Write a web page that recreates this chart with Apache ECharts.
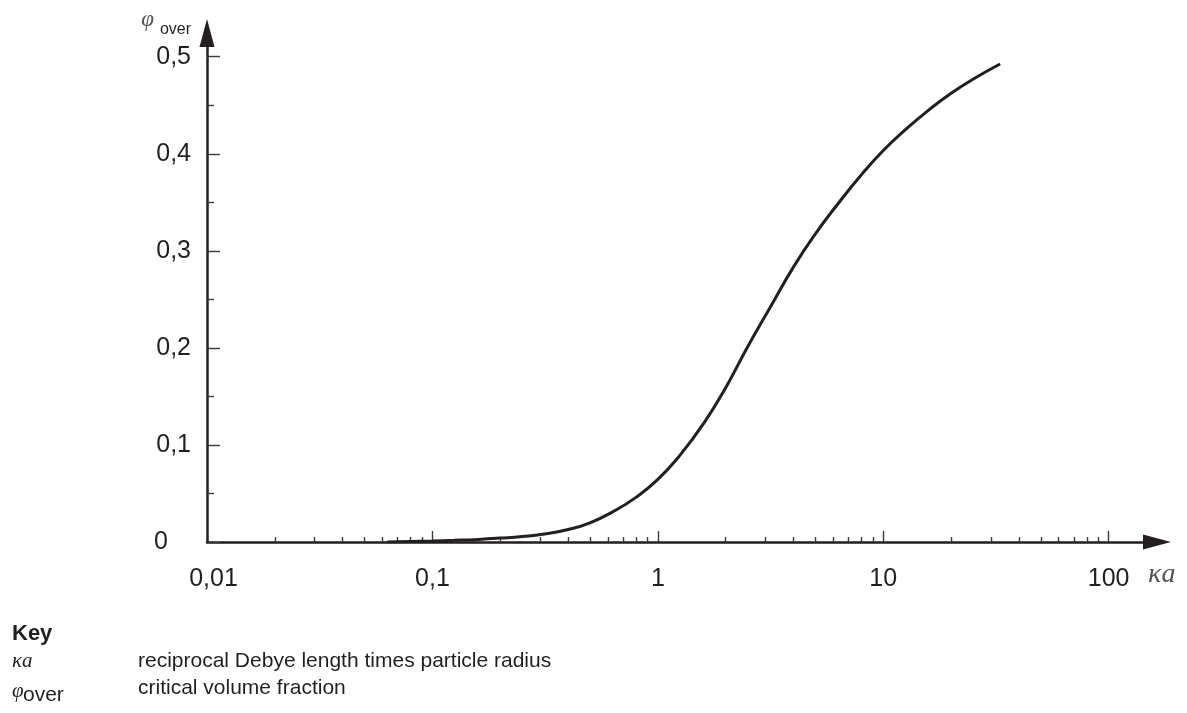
<!DOCTYPE html>
<html><head><meta charset="utf-8">
<script src="https://cdn.jsdelivr.net/npm/echarts@6/dist/echarts.min.js"></script>
<style>html,body{margin:0;padding:0;background:#fff}#c{width:1187px;height:713px}</style>
</head><body><div id="c"></div>
<script>
// ---- data ----
const kaValues = [0.063, 0.08, 0.1, 0.125, 0.16, 0.2, 0.25, 0.32, 0.4, 0.5, 0.63, 0.8, 1, 1.25, 1.6, 2, 2.5, 3.2, 4, 5, 6.3, 8, 10, 12.5, 16, 20, 25, 33];
const phiOverValues = [0, 0.0005, 0.001, 0.0017, 0.0027, 0.004, 0.0056, 0.0084, 0.0128, 0.0198, 0.031, 0.046, 0.0645, 0.089, 0.1224, 0.159, 0.201, 0.2445, 0.2835, 0.3175, 0.3485, 0.3784, 0.4033, 0.4246, 0.4455, 0.4623, 0.4768, 0.4925];
const xTickLabels = [0.01, 0.1, 1, 10, 100];
const xMajorTicks = [0.1, 1, 10, 100];
const xMinorTicks = [0.02, 0.03, 0.04, 0.05, 0.06, 0.07, 0.08, 0.09, 0.2, 0.3, 0.4, 0.5, 0.6, 0.7, 0.8, 0.9, 2, 3, 4, 5, 6, 7, 8, 9, 20, 30, 40, 50, 60, 70, 80, 90];
const yTickLabels = [0, 0.1, 0.2, 0.3, 0.4, 0.5];
const yMinorTicks = [0.05, 0.15, 0.25, 0.35, 0.45];
const keyItems = [['κa', 'reciprocal Debye length times particle radius'], ['φ', 'critical volume fraction']];

const INK = '#231f20';
const SANS = '"Liberation Sans", Arial, Helvetica, sans-serif';
const SERIF = '"Liberation Serif", "Times New Roman", serif';
const fmt = v => String(Number(v.toPrecision(6))).replace('.', ',');

const chart = echarts.init(document.getElementById('c'), null, {renderer: 'canvas'});
const X_MIN = 0.01, X_MAX = 142, Y_MIN = 0, Y_MAX = 0.51;
const lineStyle = {color: INK, width: 2.5};
const tickStyle = {color: '#3a3a3a', width: 1.4};

chart.setOption({
  animation: false,
  backgroundColor: '#ffffff',
  grid: {left: 207, right: 44, top: 47, bottom: 171, containLabel: false, outerBoundsMode: 'none'},
  xAxis: [{
    type: 'log', logBase: 10, min: X_MIN, max: X_MAX, position: 'bottom',
    axisLine: {show: true, onZero: false, symbol: ['none', 'triangle'], symbolSize: [15, 28], symbolOffset: [0, 14], lineStyle: lineStyle},
    axisTick: {show: true, inside: true, length: 11, customValues: xMajorTicks, lineStyle: tickStyle},
    axisLabel: {show: true, customValues: xTickLabels, margin: 25, color: INK, fontSize: 25, fontFamily: SANS,
      formatter: v => (Math.abs(v - 0.01) < 1e-9 ? '{first|' + fmt(v) + '}' : fmt(v)),
      rich: {first: {fontSize: 25, fontFamily: SANS, color: INK, padding: [0, 0, 0, 13]}}},
    splitLine: {show: false}, minorTick: {show: false}, minorSplitLine: {show: false},
    name: 'κa', nameLocation: 'end', nameGap: 5,
    nameTextStyle: {fontFamily: SERIF, fontStyle: 'italic', fontSize: 28, color: '#555555', align: 'left', verticalAlign: 'top', padding: [19, 0, 0, 0]}
  }, {
    type: 'log', logBase: 10, min: X_MIN, max: X_MAX, position: 'bottom',
    axisLine: {show: false},
    axisTick: {show: true, inside: true, length: 5, customValues: xMinorTicks, lineStyle: tickStyle},
    axisLabel: {show: false}, splitLine: {show: false}
  }],
  yAxis: [{
    type: 'value', min: Y_MIN, max: Y_MAX, position: 'left',
    axisLine: {show: true, onZero: false, symbol: ['none', 'triangle'], symbolSize: [15, 28], symbolOffset: [0, 14], lineStyle: lineStyle},
    axisTick: {show: true, inside: true, length: 13, customValues: yTickLabels, lineStyle: tickStyle},
    axisLabel: {show: true, customValues: yTickLabels, margin: 16, color: INK, fontSize: 25, fontFamily: SANS,
      formatter: v => (v === 0 ? '{zero|0}' : fmt(v)),
      rich: {zero: {fontSize: 25, fontFamily: SANS, color: INK, padding: [0, 23, 0, 0]}}},
    splitLine: {show: false},
    name: '{phi|φ}{sub|over}', nameLocation: 'end', nameGap: 19,
    nameTextStyle: {align: 'right', padding: [0, 16, 0, 0],
      rich: {
        phi: {fontFamily: SERIF, fontStyle: 'italic', fontSize: 23, lineHeight: 20, color: '#555555', verticalAlign: 'top'},
        sub: {fontFamily: SANS, fontSize: 16, lineHeight: 16, color: INK, verticalAlign: 'top', padding: [14, 0, 0, 6]}
      }}
  }, {
    type: 'value', min: Y_MIN, max: Y_MAX, position: 'left',
    axisLine: {show: false},
    axisTick: {show: true, inside: true, length: 7, customValues: yMinorTicks, lineStyle: tickStyle},
    axisLabel: {show: false}, splitLine: {show: false}
  }],
  series: [{
    type: 'line', xAxisIndex: 0, yAxisIndex: 0,
    data: kaValues.map((k, i) => [k, phiOverValues[i]]),
    smooth: 0.5, showSymbol: false, symbol: 'none',
    lineStyle: {color: INK, width: 3}, silent: true
  }],
  graphic: [
    {type: 'text', x: 12, y: 634, style: {text: 'Key', font: 'bold 22px ' + SANS, fill: INK, verticalAlign: 'middle', textVerticalAlign: 'middle'}},
    {type: 'text', x: 12, y: 661, style: {text: keyItems[0][0], font: 'italic 21px ' + SERIF, fill: INK, verticalAlign: 'middle', textVerticalAlign: 'middle'}},
    {type: 'text', x: 138, y: 661, style: {text: keyItems[0][1], font: '21px ' + SANS, fill: INK, verticalAlign: 'middle', textVerticalAlign: 'middle'}},
    {type: 'text', x: 12, y: 691, style: {text: keyItems[1][0], font: 'italic 21px ' + SERIF, fill: INK, verticalAlign: 'middle', textVerticalAlign: 'middle'}},
    {type: 'text', x: 23, y: 695, style: {text: 'over', font: '21px ' + SANS, fill: INK, verticalAlign: 'middle', textVerticalAlign: 'middle'}},
    {type: 'text', x: 138, y: 688, style: {text: keyItems[1][1], font: '21px ' + SANS, fill: INK, verticalAlign: 'middle', textVerticalAlign: 'middle'}}
  ]
});
</script></body></html>
